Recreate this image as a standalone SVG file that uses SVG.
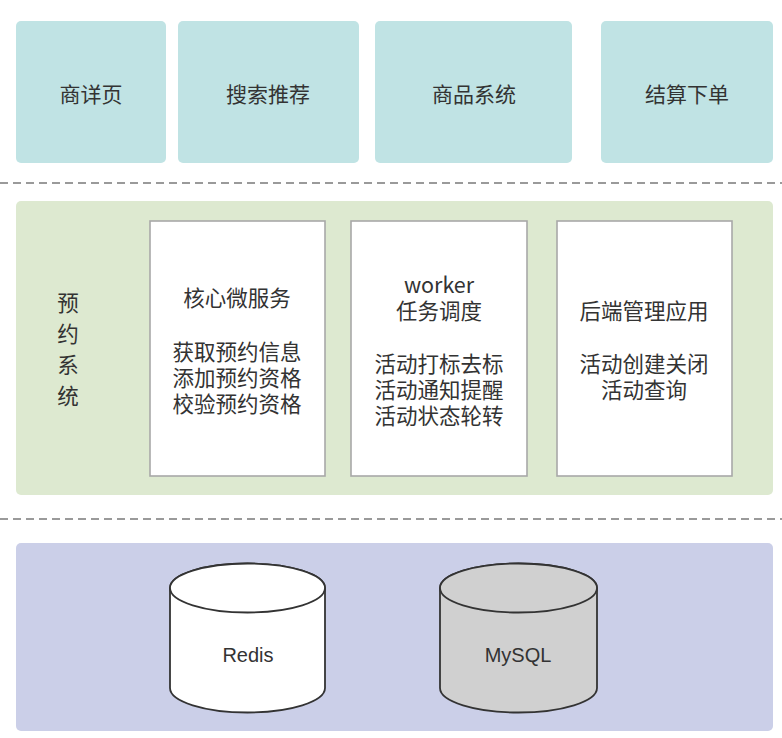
<svg xmlns="http://www.w3.org/2000/svg" width="782" height="738" viewBox="0 0 782 738">
<style>
.top{fill:#c0e3e4;}
.t{font-family:"Noto Sans CJK SC","Noto Sans",sans-serif;fill:#333;text-anchor:middle;dominant-baseline:central;}
.t22{font-size:21px;}
.t20{font-size:21.5px;}
.card{fill:#fff;stroke:#a8a8a8;stroke-width:1.6;}
.dash{stroke:#9a9a9a;stroke-width:2;stroke-dasharray:8 5;fill:none;}
.cyl{stroke:#333;stroke-width:1.8;}
.en{font-family:"Liberation Sans",Arial,sans-serif;font-size:20px;fill:#333;text-anchor:middle;dominant-baseline:central;}
</style>
<rect width="782" height="738" fill="#fff"/>

<g id="n-shangxiangye"><rect class="top" x="16" y="21" width="150" height="142" rx="5"/><text class="t t22" x="91" y="93">商详页</text></g>
<g id="n-sousuo"><rect class="top" x="178" y="21" width="181" height="142" rx="5"/><text class="t t22" x="268" y="93">搜索推荐</text></g>
<g id="n-shangpin"><rect class="top" x="375" y="21" width="197" height="142" rx="5"/><text class="t t22" x="474" y="93">商品系统</text></g>
<g id="n-jiesuan"><rect class="top" x="601" y="21" width="172" height="142" rx="5"/><text class="t t22" x="687" y="93">结算下单</text></g>

<line class="dash" x1="0" y1="183" x2="782" y2="183"/>

<g id="n-yuyue">
<rect x="16" y="201" width="757" height="294" rx="5" fill="#dde9d0"/>
<text class="t t20" x="68" y="301">预</text>
<text class="t t20" x="68" y="332">约</text>
<text class="t t20" x="68" y="363">系</text>
<text class="t t20" x="68" y="394">统</text>
</g>

<g id="n-core">
<rect class="card" x="150" y="221" width="175" height="255"/>
<text class="t t20" x="237" y="296">核心微服务</text>
<text class="t t20" x="237" y="350">获取预约信息</text>
<text class="t t20" x="237" y="376">添加预约资格</text>
<text class="t t20" x="237" y="402">校验预约资格</text>
</g>

<g id="n-worker">
<rect class="card" x="351" y="221" width="176" height="255"/>
<text class="t t20" x="439" y="283">worker</text>
<text class="t t20" x="439" y="309">任务调度</text>
<text class="t t20" x="439" y="362">活动打标去标</text>
<text class="t t20" x="439" y="388">活动通知提醒</text>
<text class="t t20" x="439" y="414">活动状态轮转</text>
</g>

<g id="n-admin">
<rect class="card" x="557" y="221" width="175" height="255"/>
<text class="t t20" x="644" y="309">后端管理应用</text>
<text class="t t20" x="644" y="362">活动创建关闭</text>
<text class="t t20" x="644" y="388">活动查询</text>
</g>

<line class="dash" x1="0" y1="519" x2="782" y2="519"/>

<g id="n-storage"><rect x="16" y="543" width="757" height="188" rx="5" fill="#cbcfe8"/></g>

<g id="n-redis">
<path class="cyl" fill="#fff" d="M170,588 L170,688 A77.5,24.5 0 0 0 325,688 L325,588 A77.5,24.5 0 0 0 170,588 Z"/>
<ellipse class="cyl" fill="#fff" cx="247.5" cy="588" rx="77.5" ry="24.5"/>
<text class="en" x="248" y="655">Redis</text>
</g>

<g id="n-mysql">
<path class="cyl" fill="#d0d0d0" d="M440,588 L440,688 A78.5,24.5 0 0 0 597,688 L597,588 A78.5,24.5 0 0 0 440,588 Z"/>
<ellipse class="cyl" fill="#d0d0d0" cx="518.5" cy="588" rx="78.5" ry="24.5"/>
<text class="en" x="518" y="655">MySQL</text>
</g>

<g id="connectors"></g>
</svg>
